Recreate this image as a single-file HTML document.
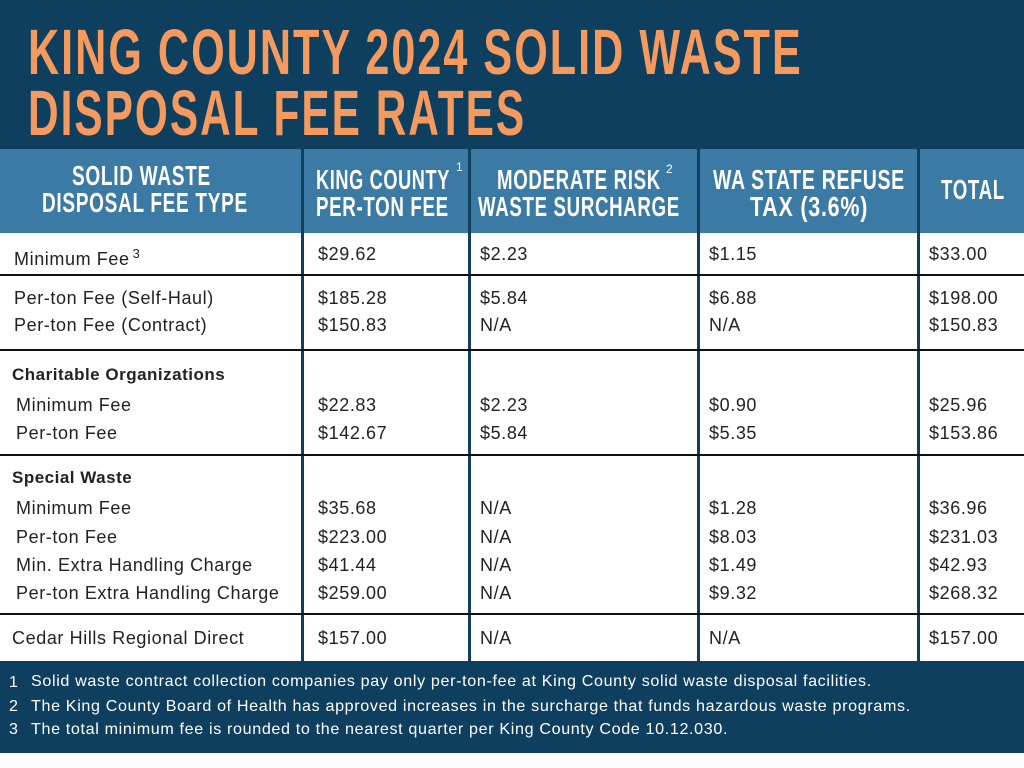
<!DOCTYPE html>
<html><head><meta charset="utf-8"><style>
*{margin:0;padding:0;box-sizing:border-box}
body{width:1024px;height:768px;background:#fff;position:relative;overflow:hidden;font-family:"Liberation Sans",sans-serif}
.nav{position:absolute;left:0;top:0;width:1024px;height:149px;background:#0e3f5f}
.t{position:absolute;left:28px;color:#f59a5f;font-weight:bold;font-size:64px;line-height:1;letter-spacing:3px;white-space:nowrap;transform-origin:0 0}
.hdr{position:absolute;left:0;top:149px;width:1024px;height:84px;background:#3a7aa5}
.vl{position:absolute;top:149px;width:3px;height:512px;background:#0e3f5f}
.hl{position:absolute;left:0;width:1024px;height:2px;background:#111}
.h{position:absolute;color:#fff;font-weight:bold;font-size:28px;line-height:28px;letter-spacing:1px;white-space:nowrap;transform-origin:0 0}
.sp{position:absolute;color:#fff;font-size:12px}
.c{position:absolute;font-size:18px;color:#222;letter-spacing:0.6px;white-space:nowrap;line-height:20px}
.b{font-weight:bold;font-size:17px;letter-spacing:0.5px}
.foot{position:absolute;left:0;top:661px;width:1024px;height:92px;background:#0e3f5f}
.f{position:absolute;color:#fff;font-size:16.1px;letter-spacing:0.65px;white-space:nowrap;line-height:18px}
</style></head><body>
<div class="nav"></div>
<div class="t" id="t1" style="top:20px">KING COUNTY 2024 SOLID WASTE</div>
<div class="t" id="t2" style="top:81px">DISPOSAL FEE RATES</div>
<div class="hdr"></div>
<div class="h" style="left:72px;top:162px;--w:139">SOLID WASTE</div>
<div class="h" style="left:42px;top:189px;--w:206">DISPOSAL FEE TYPE</div>
<div class="h" style="left:316px;top:166px;--w:134">KING COUNTY</div>
<div class="h" style="left:316px;top:193px;--w:133">PER-TON FEE</div>
<div class="h" style="left:497px;top:166px;--w:164">MODERATE RISK</div>
<div class="h" style="left:478px;top:193px;--w:202">WASTE SURCHARGE</div>
<div class="h" style="left:713px;top:166px;--w:192">WA STATE REFUSE</div>
<div class="h" style="left:750px;top:193px;--w:118">TAX (3.6%)</div>
<div class="h" style="left:941px;top:176px;--w:64">TOTAL</div>
<div class="sp" style="left:456px;top:160px">1</div>
<div class="sp" style="left:666px;top:162px">2</div>
<div class="vl" style="left:301px"></div>
<div class="vl" style="left:468px"></div>
<div class="vl" style="left:697px"></div>
<div class="vl" style="left:917px"></div>
<div class="hl" style="top:274px"></div>
<div class="hl" style="top:349px"></div>
<div class="hl" style="top:454px"></div>
<div class="hl" style="top:613px"></div>
<div class="foot"></div>

<div class="c" style="left:14px;top:244px">Minimum Fee<sup style="font-size:13px;margin-left:3px">3</sup></div>
<div class="c" style="left:318px;top:244px">$29.62</div><div class="c" style="left:480px;top:244px">$2.23</div><div class="c" style="left:709px;top:244px">$1.15</div><div class="c" style="left:929px;top:244px">$33.00</div>

<div class="c" style="left:14px;top:288px">Per-ton Fee (Self-Haul)</div>
<div class="c" style="left:318px;top:288px">$185.28</div><div class="c" style="left:480px;top:288px">$5.84</div><div class="c" style="left:709px;top:288px">$6.88</div><div class="c" style="left:929px;top:288px">$198.00</div>
<div class="c" style="left:14px;top:315px">Per-ton Fee (Contract)</div>
<div class="c" style="left:318px;top:315px">$150.83</div><div class="c" style="left:480px;top:315px">N/A</div><div class="c" style="left:709px;top:315px">N/A</div><div class="c" style="left:929px;top:315px">$150.83</div>

<div class="c b" style="left:12px;top:365px">Charitable Organizations</div>
<div class="c" style="left:16px;top:395px">Minimum Fee</div>
<div class="c" style="left:318px;top:395px">$22.83</div><div class="c" style="left:480px;top:395px">$2.23</div><div class="c" style="left:709px;top:395px">$0.90</div><div class="c" style="left:929px;top:395px">$25.96</div>
<div class="c" style="left:16px;top:423px">Per-ton Fee</div>
<div class="c" style="left:318px;top:423px">$142.67</div><div class="c" style="left:480px;top:423px">$5.84</div><div class="c" style="left:709px;top:423px">$5.35</div><div class="c" style="left:929px;top:423px">$153.86</div>

<div class="c b" style="left:12px;top:468px">Special Waste</div>
<div class="c" style="left:16px;top:498px">Minimum Fee</div>
<div class="c" style="left:318px;top:498px">$35.68</div><div class="c" style="left:480px;top:498px">N/A</div><div class="c" style="left:709px;top:498px">$1.28</div><div class="c" style="left:929px;top:498px">$36.96</div>
<div class="c" style="left:16px;top:527px">Per-ton Fee</div>
<div class="c" style="left:318px;top:527px">$223.00</div><div class="c" style="left:480px;top:527px">N/A</div><div class="c" style="left:709px;top:527px">$8.03</div><div class="c" style="left:929px;top:527px">$231.03</div>
<div class="c" style="left:16px;top:555px">Min. Extra Handling Charge</div>
<div class="c" style="left:318px;top:555px">$41.44</div><div class="c" style="left:480px;top:555px">N/A</div><div class="c" style="left:709px;top:555px">$1.49</div><div class="c" style="left:929px;top:555px">$42.93</div>
<div class="c" style="left:16px;top:583px">Per-ton Extra Handling Charge</div>
<div class="c" style="left:318px;top:583px">$259.00</div><div class="c" style="left:480px;top:583px">N/A</div><div class="c" style="left:709px;top:583px">$9.32</div><div class="c" style="left:929px;top:583px">$268.32</div>

<div class="c" style="left:12px;top:628px">Cedar Hills Regional Direct</div>
<div class="c" style="left:318px;top:628px">$157.00</div><div class="c" style="left:480px;top:628px">N/A</div><div class="c" style="left:709px;top:628px">N/A</div><div class="c" style="left:929px;top:628px">$157.00</div>

<div class="f" style="left:9px;top:673px">1</div><div class="f" style="left:31px;top:672px">Solid waste contract collection companies pay only per-ton-fee at King County solid waste disposal facilities.</div>
<div class="f" style="left:9px;top:697px">2</div><div class="f" style="left:31px;top:697px">The King County Board of Health has approved increases in the surcharge that funds hazardous waste programs.</div>
<div class="f" style="left:9px;top:720px">3</div><div class="f" style="left:31px;top:720px">The total minimum fee is rounded to the nearest quarter per King County Code 10.12.030.</div>
<script>
function fitEl(e,w){var s=w/e.scrollWidth;e.style.transform='scaleX('+s+')';}
fitEl(document.getElementById('t1'),775);fitEl(document.getElementById('t2'),498);
document.querySelectorAll('.h').forEach(function(e){var w=parseFloat(getComputedStyle(e).getPropertyValue('--w'));if(w)fitEl(e,w);});
</script>
</body></html>
